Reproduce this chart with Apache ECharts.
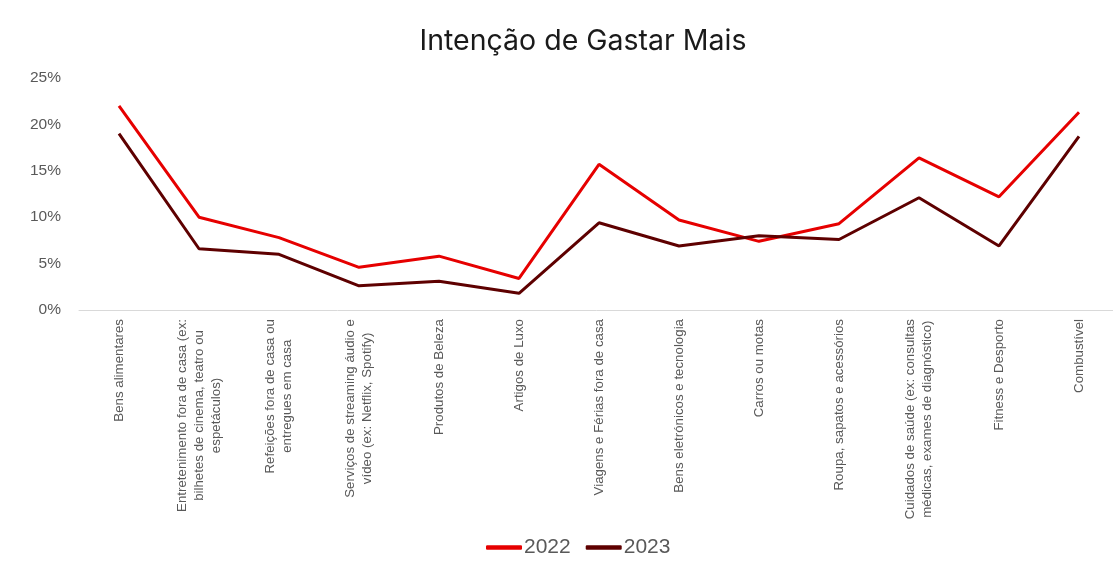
<!DOCTYPE html>
<html>
<head>
<meta charset="utf-8">
<script src="https://cdn.jsdelivr.net/npm/echarts@6/dist/echarts.min.js"></script>
<style>html,body{margin:0;padding:0;background:#fff}#c{width:1113px;height:577px}</style>
</head>
<body>
<div id="c"></div>
<script>
const categories = [
  'Bens alimentares',
  'Entretenimento fora de casa (ex:\nbilhetes de cinema, teatro ou\nespetáculos)',
  'Refeições fora de casa ou\nentregues em casa',
  'Serviços de streaming áudio e\nvídeo (ex: Netflix, Spotify)',
  'Produtos de Beleza',
  'Artigos de Luxo',
  'Viagens e Férias fora de casa',
  'Bens eletrónicos e tecnologia',
  'Carros ou motas',
  'Roupa, sapatos e acessórios',
  'Cuidados de saúde (ex: consultas\nmédicas, exames de diagnóstico)',
  'Fitness e Desporto',
  'Combustível'
];
const values2022 = [22.0, 10.0, 7.8, 4.6, 5.8, 3.4, 15.7, 9.7, 7.4, 9.3, 16.4, 12.2, 21.3];
const values2023 = [19.0, 6.6, 6.0, 2.6, 3.1, 1.8, 9.4, 6.9, 8.0, 7.6, 12.1, 6.9, 18.7];
const yTicks = [0, 5, 10, 15, 20, 25];

const chart = echarts.init(document.getElementById('c'), null, {renderer: 'canvas'});
chart.setOption({
  animation: false,
  title: {
    text: 'Intenção de Gastar Mais',
    left: 578, top: 22, textAlign: 'center',
    textStyle: {fontFamily: 'Inter', fontSize: 28.5, fontWeight: 'normal', color: '#1a1a1a'}
  },
  legend: {
    top: 537, left: 486, padding: 0,
    icon: 'roundRect', itemWidth: 36, itemHeight: 4.5, itemGap: 15,
    textStyle: {fontFamily: 'Liberation Sans', fontSize: 21, color: '#595959', padding: [0, 0, 0, -3]},
    data: ['2022', '2023']
  },
  grid: {left: 79, width: 1040, top: 78, height: 232, containLabel: false, outerBoundsMode: 'none'},
  xAxis: {
    type: 'category',
    data: categories,
    boundaryGap: true,
    axisLine: {lineStyle: {color: '#d9d9d9', width: 1}},
    axisTick: {show: false},
    axisLabel: {
      interval: 0, rotate: 90, margin: 9,
      fontFamily: 'Liberation Sans', fontSize: 13.3, color: '#595959', lineHeight: 17,
      formatter: v => v.split('\n').map(s => '{c|' + s + '}').join('\n'),
      rich: {c: {align: 'center', fontFamily: 'Liberation Sans', fontSize: 13.3, color: '#595959', lineHeight: 17}}
    }
  },
  yAxis: {
    type: 'value', min: yTicks[0], max: yTicks[yTicks.length - 1], interval: 5,
    axisLine: {show: false}, axisTick: {show: false},
    splitLine: {show: false},
    axisLabel: {
      margin: 18, fontFamily: 'Liberation Sans', fontSize: 15.5, color: '#595959',
      formatter: v => v + '%'
    }
  },
  series: [
    {name: '2022', type: 'line', data: values2022, showSymbol: false, symbol: 'none',
     lineStyle: {color: '#e60000', width: 3}, itemStyle: {color: '#e60000'}},
    {name: '2023', type: 'line', data: values2023, showSymbol: false, symbol: 'none',
     lineStyle: {color: '#5e0000', width: 3}, itemStyle: {color: '#5e0000'}}
  ]
});
</script>
</body>
</html>
